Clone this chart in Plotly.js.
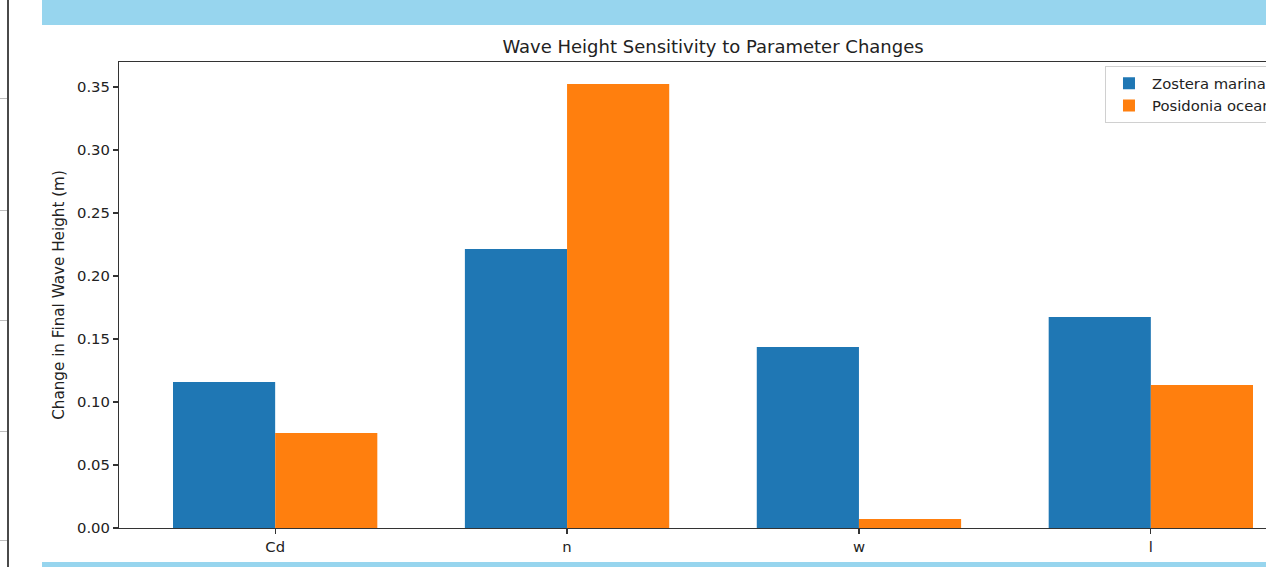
<!DOCTYPE html>
<html>
<head>
<meta charset="utf-8">
<script src="https://cdn.plot.ly/plotly-3.0.1.min.js"></script>
<style>
  html, body { margin:0; padding:0; width:1266px; height:567px; overflow:hidden; background:#fff; }
  #wrap { position:relative; width:1266px; height:567px; overflow:hidden; }
  #chart { position:absolute; left:0; top:0; width:1320px; height:567px; }
  .band { position:absolute; background:#97d5ee; z-index:5; }
  .edge { position:absolute; left:7px; top:0; width:2px; height:567px; background:#4a4a4a; z-index:5; }
  .etick { position:absolute; left:0; width:7px; height:1px; background:#bdbdbd; z-index:5; }
</style>
</head>
<body>
<div id="wrap">
  <div id="chart"></div>
  <div class="band" style="left:42px; top:0; width:1224px; height:25px;"></div>
  <div class="band" style="left:42px; top:562px; width:1224px; height:5px;"></div>
  <div class="edge"></div>
  <div class="etick" style="top:98px;"></div>
  <div class="etick" style="top:210px;"></div>
  <div class="etick" style="top:320px;"></div>
  <div class="etick" style="top:431px;"></div>
  <div class="etick" style="top:540px;"></div>
</div>
<script>
const categories = ["Cd", "n", "w", "l"];
const zosteraValues = [0.1159, 0.2214, 0.1437, 0.1675];
const posidoniaValues = [0.0754, 0.3524, 0.0071, 0.1135];
const seriesNames = ["Zostera marina", "Posidonia oceanica"];
const yTickValues = [0, 0.05, 0.10, 0.15, 0.20, 0.25, 0.30, 0.35];

const font = "DejaVu Sans, sans-serif";
const traces = [
  { type: "bar", name: seriesNames[0], x: categories, y: zosteraValues,
    marker: { color: "#1f77b4", line: { width: 0 } }, hoverinfo: "none" },
  { type: "bar", name: seriesNames[1], x: categories, y: posidoniaValues,
    marker: { color: "#ff7f0e", line: { width: 0 } }, hoverinfo: "none" }
];

const layout = {
  width: 1320, height: 567,
  margin: { l: 119, r: 13, t: 62, b: 39, pad: 0 },
  paper_bgcolor: "#ffffff", plot_bgcolor: "#ffffff",
  barmode: "group", bargap: 0.3, bargroupgap: 0,
  font: { family: font, size: 15, color: "#222" },
  title: { text: "Wave Height Sensitivity to Parameter Changes",
    font: { family: font, size: 18, color: "#222" },
    x: 0.5, xref: "paper", xanchor: "center",
    y: 1 - 47/567, yref: "container", yanchor: "middle" },
  xaxis: {
    type: "category", range: [-0.535, 3.535],
    showline: true, mirror: true, linecolor: "#333", linewidth: 1.1,
    ticks: "outside", ticklen: 5, tickwidth: 1.1, tickcolor: "#333",
    showgrid: false, zeroline: false,
    tickfont: { family: font, size: 14.8, color: "#222" }
  },
  yaxis: {
    range: [0, 0.3698],
    tickvals: yTickValues, tickformat: ".2f",
    showline: true, mirror: true, linecolor: "#333", linewidth: 1.1,
    ticks: "outside", ticklen: 5, tickwidth: 1.1, tickcolor: "#333",
    showgrid: false, zeroline: false,
    tickfont: { family: font, size: 14.8, color: "#222" },
    title: { text: "Change in Final Wave Height (m)", standoff: 8,
      font: { family: font, size: 15.2, color: "#222" } }
  },
  legend: {
    x: 0.9941, y: 0.991, xanchor: "right", yanchor: "top",
    bgcolor: "rgba(255,255,255,0.9)", bordercolor: "#d0d0d0", borderwidth: 1,
    font: { family: font, size: 14.8, color: "#222" },
    tracegroupgap: 0, itemwidth: 36
  },
  showlegend: true
};

Plotly.newPlot("chart", traces, layout, { staticPlot: true, displayModeBar: false });
</script>
</body>
</html>
